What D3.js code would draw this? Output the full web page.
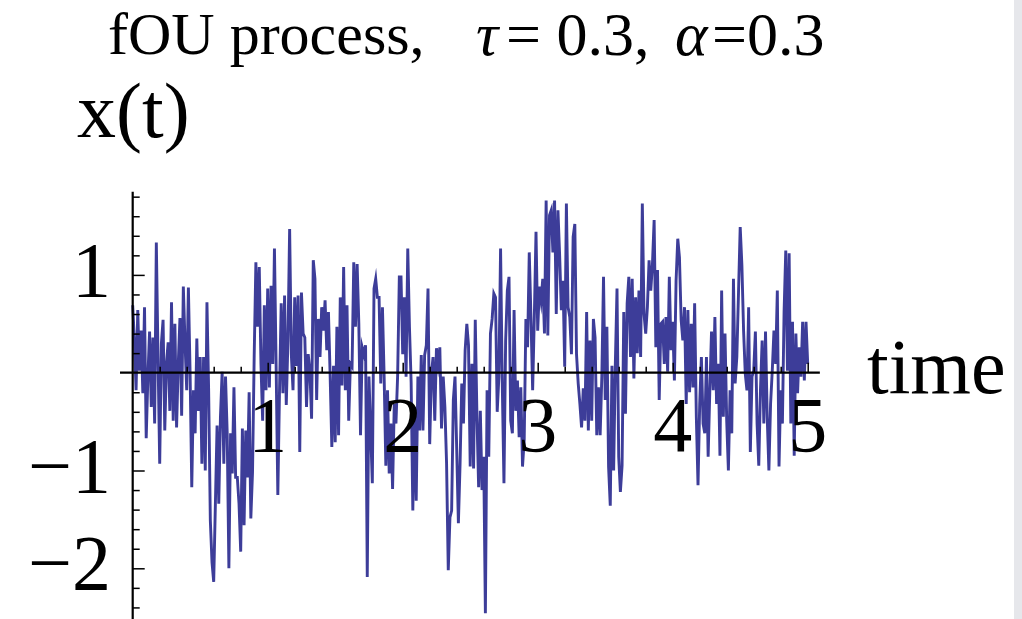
<!DOCTYPE html>
<html><head><meta charset="utf-8">
<script src="https://cdnjs.cloudflare.com/ajax/libs/d3/7.8.5/d3.min.js"></script>
<style>html,body{margin:0;padding:0;background:#fff;overflow:hidden}</style>
</head><body>
<svg id="chart" width="1022" height="619"></svg>
<script>
// sampling step of the path (time units)
const dt = 0.0125;
// x(t) values, in consecutive time order
const seg1 = [0.69,0.33,-0.18,0.64,0.02,0.43,-0.21,0.67,-0.67,-0.04,
  0.42,-0.35,0.36,-0.52,1.33,0.16,-0.93,0.30,0.54,-0.59,
  0.09,0.31,-0.39,0.72,-0.49,0.50,-0.56,0.09,0.56,-0.44,
  0.88,0.31,-0.18,0.87,0.01,-1.17,-0.18,-0.62,0.35,-0.39,
  0.16,-0.93,0.16,-1.00,0.72,-0.18,-1.51,-1.94,-2.14,-1.34,
  -0.54,-1.34,-0.45,0.01,-0.93,-0.04,-0.62,-2.00,-0.62,-1.03,
  -0.15,-1.07];
const seg2 = [-1.07,-1.34,-1.83,-0.57,-1.56,-0.59,-1.07,-0.20,-1.49,-1.02,
  0.18,1.13,0.47,1.08,0.09,-0.49,0.69,-0.18,0.86,-0.15,
  0.89,0.09,1.27,0.06,-1.25,-0.18,0.71,-0.21,0.79,-0.33,
  0.33,1.47,0.19,-0.18,0.77,0.07,0.79,-0.81,0.82,0.40,
  0.36,-0.35,0.19,0.02,-0.47,1.15,0.96,-0.28,0.55,0.16,
  0.67,0.43,0.74,0.23,0.62,-0.03,-0.76,0.07,-0.71,0.47,
  -0.64,0.77,-0.13,1.08,-0.18,0.69,-0.49,0.09,0.06,1.13,
  0.47];
const seg3 = [1.11,0.50,-0.64,0.26,0.19,0.28,-2.09,-0.04,-0.59,-1.13,
  0.86,0.96,0.77,0.77,-0.11,0.67,-0.04,-0.95,-0.18,-1.03,
  -0.52,-1.19,-0.32,-0.52,-0.03,0.98,0.98,0.19,0.77,-0.04,
  1.27,0.47,-0.10,-1.41,-0.35,-1.31,-0.04,-0.59,0.18,-0.59,
  0.18,0.28,0.86,-0.73,-0.01,0.16,-0.49,0.25,0.09,0.26,
  -0.57,-0.04,-0.35,-0.93,-2.02,-1.48,-1.41,-0.28,-0.04,-0.78,
  -1.54,-0.93,-0.11,-0.52,0.23,0.50,0.28,-0.96];
const seg4 = [0.09,-0.98,0.54,-0.45,-1.17,-0.39,-1.20,-0.86,-2.46,-0.18,
  -0.86,0.40,0.55,0.81,0.77,-0.40,-0.04,1.27,-0.11,-1.13,
  0.33,0.84,0.98,-0.49,-0.62,0.64,-0.39,-0.08,-0.66,-0.15,
  -0.96,-0.69,0.55,0.26,1.23,0.57,-0.18,0.57,1.44,0.43,
  0.88,0.74,0.96,0.40,1.76,0.38,1.61,1.66,1.23,1.76,
  0.60,1.66,1.20,0.64,0.94,0.06,1.73,0.67,0.57,0.19,
  1.39,1.52,0.19,-0.11,-0.32,-0.56,-0.16,-0.49];
const seg5 = [0.62,-0.59,0.33,-0.49,0.55,0.36,-0.64,-0.15,-0.64,-0.04,
  0.98,-0.28,0.47,-0.96,-1.36,0.07,-1.00,0.09,0.86,-0.86,
  -1.22,-0.95,0.62,-0.42,0.71,0.98,0.16,0.96,-0.06,0.77,
  0.20,0.84,0.16,1.73,0.60,0.40,0.67,1.15,0.84,1.11,
  1.56,0.26,1.05,-0.28,0.50,0.52,0.09,0.57,0.01,0.98,
  0.23,0.52,-0.08,0.94,1.37,1.18,0.54,0.33,0.67,-0.32,
  0.64,-0.20,0.50,-0.15,0.71,-0.45,-1.15,-0.32];
const seg6 = [0.16,-0.52,-0.62,0.16,-0.86,-0.18,0.42,-0.18,0.57,-0.32,
  0.09,-0.85,0.84,-0.45,0.40,-0.49,-1.00,-0.18,-0.62,0.96,
  -0.11,0.16,0.82,1.49,1.10,0.43,-0.01,-0.18,0.67,-0.81,
  -0.04,0.02,0.42,-0.52,-0.95,-0.18,0.33,-0.52,0.42,-0.45,
  -1.00,-0.32,0.02,0.43,0.09,0.84,-0.96,-0.18,-0.52,0.62,
  1.25,0.02,1.22,-0.52,0.52,-0.85,0.40,-0.21,0.26,-0.04,
  0.52,-0.08,0.52,0.09];
const xValues = [].concat(seg1, seg2, seg3, seg4, seg5, seg6);

const xMajorTicks = [1, 2, 3, 4, 5];
const xTickLabels = ["1", "2", "3", "4", "5"];
const xMinorTicks = [0.2,0.4,0.6,0.8,1.2,1.4,1.6,1.8,2.2,2.4,2.6,2.8,3.2,3.4,3.6,3.8,4.2,4.4,4.6,4.8];
const yMajorTicks = [1, -1, -2];
const yTickLabels = ["1", "\u22121", "\u22122"];
const yMinorTicks = [1.8,1.6,1.4,1.2,0.8,0.6,0.4,0.2,-0.2,-0.4,-0.6,-0.8,-1.2,-1.4,-1.6,-1.8,-2.2,-2.4];

const FONT = "'Liberation Serif','Times New Roman',Times,serif";
const svg = d3.select("#chart");

svg.append("rect").attr("x", 1014).attr("y", 0).attr("width", 8).attr("height", 619).attr("fill", "#e6e7eb");

const x = d3.scaleLinear().domain([0, 5]).range([132.7, 807.7]);
const y = d3.scaleLinear().domain([-2.5, 1.85]).range([372.7 + 2.5 * 97.8, 372.7 - 1.85 * 97.8]);

// data line
const line = d3.line().x((d, i) => x(i * dt)).y(d => y(d));
svg.append("path").datum(xValues)
  .attr("d", line).attr("fill", "none")
  .attr("stroke", "#3d3d99").attr("stroke-width", 2.9)
  .attr("stroke-linejoin", "miter").attr("stroke-miterlimit", 10);

// axes
const axG = svg.append("g");
axG.append("line").attr("x1", x(-0.094)).attr("x2", x(5.09))
  .attr("y1", y(0)).attr("y2", y(0)).attr("stroke", "#000").attr("stroke-width", 2.2);
axG.append("line").attr("x1", x(0)).attr("x2", x(0))
  .attr("y1", y(1.85)).attr("y2", y(-2.55)).attr("stroke", "#000").attr("stroke-width", 2.2);

function tickGroup(axis, tx, ty) {
  const g = svg.append("g").attr("transform", `translate(${tx},${ty})`).call(axis);
  g.select(".domain").remove();
  g.selectAll(".tick line").attr("stroke", "#000").attr("stroke-width", 1.5);
  g.selectAll(".tick text").remove();
  return g;
}
tickGroup(d3.axisTop(x).tickValues(xMinorTicks).tickSizeInner(6).tickSizeOuter(0), 0, y(0));
tickGroup(d3.axisTop(x).tickValues(xMajorTicks).tickSizeInner(10).tickSizeOuter(0), 0, y(0));
tickGroup(d3.axisLeft(y).tickValues(yMinorTicks).tickSizeInner(-7).tickSizeOuter(0), x(0), 0);
tickGroup(d3.axisLeft(y).tickValues(yMajorTicks).tickSizeInner(-12).tickSizeOuter(0), x(0), 0);

// tick labels
svg.append("g").selectAll("text").data(xMajorTicks).join("text")
  .attr("x", d => x(d)).attr("y", 451)
  .attr("text-anchor", "middle").attr("font-family", FONT).attr("font-size", 78)
  .text((d, i) => xTickLabels[i]);
svg.append("g").selectAll("text").data(yMajorTicks).join("text")
  .attr("x", 111).attr("y", d => y(d) + 21)
  .attr("text-anchor", "end").attr("font-family", FONT).attr("font-size", 78)
  .text((d, i) => yTickLabels[i]);

// axis labels
svg.append("text").attr("x", 867).attr("y", 393).attr("font-family", FONT).attr("font-size", 78).text("time");
svg.append("text").attr("x", 77).attr("y", 137).attr("font-family", FONT).attr("font-size", 78).text("x(t)");

// title, pieces placed as in the reference
const tg = svg.append("g").attr("font-family", FONT);
tg.append("text").attr("x", 108).attr("y", 54).attr("font-size", 60).text("fOU process,");
tg.append("text").attr("x", 476).attr("y", 55).attr("font-size", 62).attr("font-style", "italic").text("\u03C4");
tg.append("text").attr("x", 506).attr("y", 55).attr("font-size", 62).text("= 0.3,");
tg.append("text").attr("x", 675).attr("y", 55).attr("font-size", 62).attr("font-style", "italic").text("\u03B1");
tg.append("text").attr("x", 712).attr("y", 55).attr("font-size", 62).text("=0.3");
</script>
</body></html>
